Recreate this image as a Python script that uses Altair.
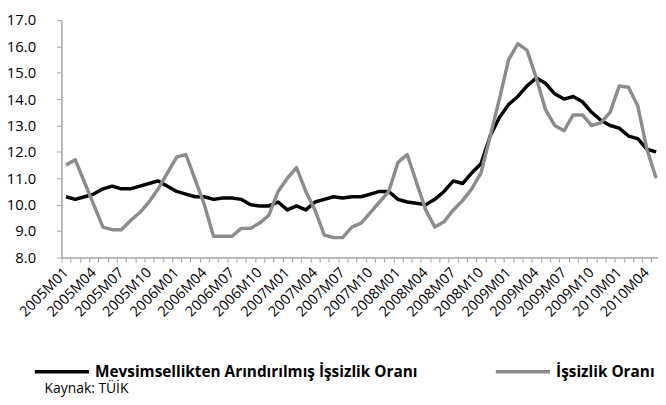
import json
import altair as alt
import pandas as pd

# Monthly periods 2005M01 .. 2010M05
periods = [f"{y}M{m:02d}" for y in range(2005, 2011) for m in range(1, 13)][:65]

series_names = ["Mevsimsellikten Arındırılmış İşsizlik Oranı", "İşsizlik Oranı"]
series_colors = ["#000000", "#8c8c8c"]
source_note = ["Kaynak: TÜİK"]

# Seasonally adjusted unemployment rate (%)
sa_rate = [10.3, 10.2, 10.3, 10.4, 10.6, 10.7, 10.6, 10.6, 10.7, 10.8, 10.9, 10.7,
           10.5, 10.4, 10.3, 10.3, 10.2, 10.25, 10.25, 10.2, 10.0, 9.95, 9.95, 10.1,
           9.8, 9.95, 9.8, 10.1, 10.2, 10.3, 10.25, 10.3, 10.3, 10.4, 10.5, 10.5,
           10.2, 10.1, 10.05, 10.0, 10.2, 10.5, 10.9, 10.8, 11.2, 11.55, 12.6, 13.3,
           13.8, 14.1, 14.5, 14.8, 14.6, 14.2, 14.0, 14.1, 13.9, 13.5, 13.2, 13.0,
           12.9, 12.6, 12.5, 12.1, 12.0]

# Unemployment rate (%)
rate = [11.5, 11.7, 10.85, 10.0, 9.15, 9.05, 9.05, 9.4, 9.7, 10.1, 10.6, 11.2,
        11.8, 11.9, 10.95, 10.0, 8.8, 8.8, 8.8, 9.1, 9.1, 9.3, 9.6, 10.5,
        11.0, 11.4, 10.5, 9.8, 8.85, 8.75, 8.75, 9.15, 9.3, 9.7, 10.1, 10.5,
        11.6, 11.9, 10.85, 9.8, 9.15, 9.35, 9.8, 10.15, 10.6, 11.2, 12.6, 14.0,
        15.5, 16.1, 15.85, 14.8, 13.6, 13.0, 12.8, 13.4, 13.4, 13.0, 13.1, 13.5,
        14.5, 14.45, 13.75, 12.1, 11.0]

y_ticks = [8, 9, 10, 11, 12, 13, 14, 15, 16, 17]

rows = []
for name, vals in zip(series_names, [sa_rate, rate]):
    for i, (p, v) in enumerate(zip(periods, vals)):
        rows.append({"idx": i, "period": p, "series": name, "value": v})
df = pd.DataFrame(rows)

FONT = "Open Sans"
labels_js = json.dumps(periods)
label_expr = f"(datum.value + 0.5) % 3 == 0 ? {labels_js}[datum.value + 0.5] : ''"

x_enc = alt.X(
    "idx:Q",
    scale=alt.Scale(domain=[-0.5, 64.2], nice=False, zero=False),
    axis=alt.Axis(
        values=[k - 0.5 for k in range(65)],
        labelExpr=label_expr,
        labelOffset=4.6,
        labelAngle=-45,
        labelAlign="right",
        labelBaseline="middle",
        labelOverlap=False,
        labelFlush=False,
        labelPadding=8,
        tickSize=5,
        grid=False,
        title=None,
        labelFont=FONT,
        labelFontSize=14.5,
        labelColor="#000000",
        domainColor="#a6a6a6",
        tickColor="#a6a6a6",
        domainWidth=1.5,
    ),
)
y_enc = alt.Y(
    "value:Q",
    scale=alt.Scale(domain=[8, 17], nice=False, zero=False),
    axis=alt.Axis(
        values=y_ticks,
        format=".1f",
        tickSize=5,
        labelPadding=21,
        grid=False,
        title=None,
        labelFont=FONT,
        labelFontSize=15,
        labelColor="#000000",
        domainColor="#a6a6a6",
        tickColor="#a6a6a6",
        domainWidth=1.5,
    ),
)
color_enc = alt.Color(
    "series:N",
    scale=alt.Scale(domain=series_names, range=series_colors),
    legend=alt.Legend(
        orient="none",
        legendX=-29,
        legendY=326,
        direction="horizontal",
        title=None,
        symbolType="stroke",
        symbolSize=3000,
        symbolStrokeWidth=3.5,
        labelFont=FONT,
        labelFontWeight="bold",
        labelFontSize=15.5,
        labelColor="#000000",
        labelLimit=700,
        columnPadding=72,
        labelOffset=4,
    ),
)

base = alt.Chart(df)
layers = []
for name in series_names:
    layers.append(
        base.transform_filter(alt.datum.series == name)
        .mark_line(strokeWidth=3.5, strokeJoin="round")
        .encode(x=x_enc, y=y_enc, color=color_enc)
    )

note = (
    alt.Chart(pd.DataFrame({"note": source_note}))
    .mark_text(align="left", baseline="middle", font=FONT, fontSize=14, color="#000000")
    .encode(text="note:N", x=alt.value(-17), y=alt.value(373.5))
)
layers.append(note)

chart = alt.layer(*layers).properties(
    width=603,
    height=240,
    autosize=alt.AutoSizeParams(type="none"),
    padding={"left": 54, "top": 10, "right": 0, "bottom": 139},
).configure_view(stroke=None)

chart.save("out.html", embed_options={"renderer": "svg", "actions": False})
